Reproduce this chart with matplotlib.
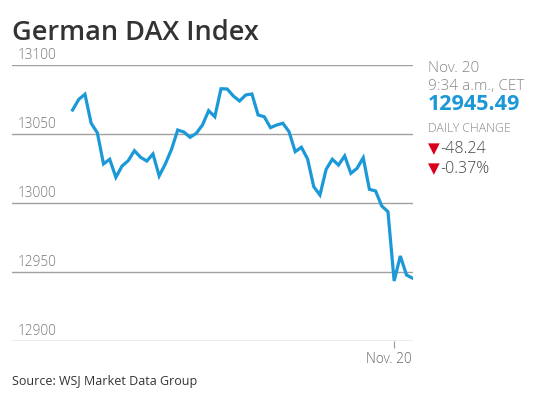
import matplotlib.pyplot as plt
from matplotlib import transforms

# DAX intraday values (roughly evenly spaced)
values = [
    13067.4, 13075.1, 13078.8, 13057.8, 13050.9, 13028.3, 13031.7, 13018.6,
    13026.8, 13030.7, 13037.9, 13033.1, 13030.4, 13035.5, 13019.6, 13028.3,
    13038.9, 13052.9, 13051.4, 13047.6, 13050.5, 13056.5, 13066.9, 13062.5,
    13082.8, 13082.6, 13077.5, 13073.9, 13078.3, 13079.0, 13063.8, 13062.5,
    13054.6, 13056.5, 13057.8, 13051.7, 13037.2, 13040.4, 13031.9, 13011.8,
    13005.8, 13024.4, 13031.7, 13027.5, 13034.1, 13021.5, 13025.1, 13032.8,
    13009.9, 13008.7, 12997.8, 12993.7, 12943.5, 12961.6, 12947.8, 12945.49,
]
yticks = [12900, 12950, 13000, 13050, 13100]
xtick_pos = [52]
xtick_labels = ["Nov. 20"]

BLUE = "#1b98d8"
RED = "#d9001b"
plt.rcParams["font.family"] = ["Open Sans", "DejaVu Sans"]

fig = plt.figure(figsize=(5.43, 3.99), dpi=100)
ax = fig.add_axes([12 / 543, 1 - 341 / 399, 401 / 543, 276 / 399])

x = list(range(len(values)))
ax.plot(x, values, color=BLUE, lw=2.3, solid_joinstyle="miter")

ax.set_xlim(-9.8, len(values) - 0.95)
ax.set_ylim(yticks[0], yticks[-1])
ax.set_yticks(yticks)
ax.yaxis.grid(True, color="#a0a0a0", lw=1.0)
ax.set_axisbelow(True)
ax.tick_params(axis="y", length=0, labelleft=False)
for s in ax.spines.values():
    s.set_visible(False)

trans = transforms.blended_transform_factory(ax.transAxes, ax.transData)
for v in yticks:
    ax.text(0.015, v + 1.5, str(v), transform=trans, ha="left", va="bottom",
            fontsize=9.8, color="#777777", fontweight="light")

ax.set_xticks(xtick_pos)
ax.set_xticklabels(xtick_labels, fontsize=9.8, color="#666666", fontweight="light")
ax.tick_params(axis="x", length=5, width=0.8, color="#999999", pad=3)
shift = transforms.ScaledTranslation(-5 / 100, 0, fig.dpi_scale_trans)
for lbl in ax.get_xticklabels():
    lbl.set_transform(lbl.get_transform() + shift)

fig.text(12 / 543, 1 - 33 / 399, "German DAX Index", fontsize=19.5,
         fontweight="semibold", color="#333333", va="center", ha="left")

px = 428 / 543
fig.text(px, 1 - 69 / 399, "Nov. 20", fontsize=11, color="#888888",
         fontweight="light", va="center")
fig.text(px, 1 - 86 / 399, "9:34 a.m., CET", fontsize=11, color="#888888",
         fontweight="light", va="center")
fig.text(px, 1 - 105 / 399, f"{values[-1]:.2f}", fontsize=15.5,
         color=BLUE, fontweight="bold", va="center")
fig.text(px, 1 - 129 / 399, "DAILY CHANGE", fontsize=8.8, color="#888888",
         fontweight="light", va="center")
for yy, txt in [(149, "-48.24"), (169, "-0.37%")]:
    fig.text(px, 1 - yy / 399, "\u25BC", fontsize=11, color=RED, va="center",
             family="DejaVu Sans")
    fig.text(px + 12 / 543, 1 - yy / 399, txt, fontsize=11.5, color="#444444",
             fontweight="light", va="center")

fig.text(12 / 543, 1 - 382 / 399, "Source: WSJ Market Data Group", fontsize=9,
         color="#333333", va="center", ha="left")

fig.savefig("out.png", dpi=100)
